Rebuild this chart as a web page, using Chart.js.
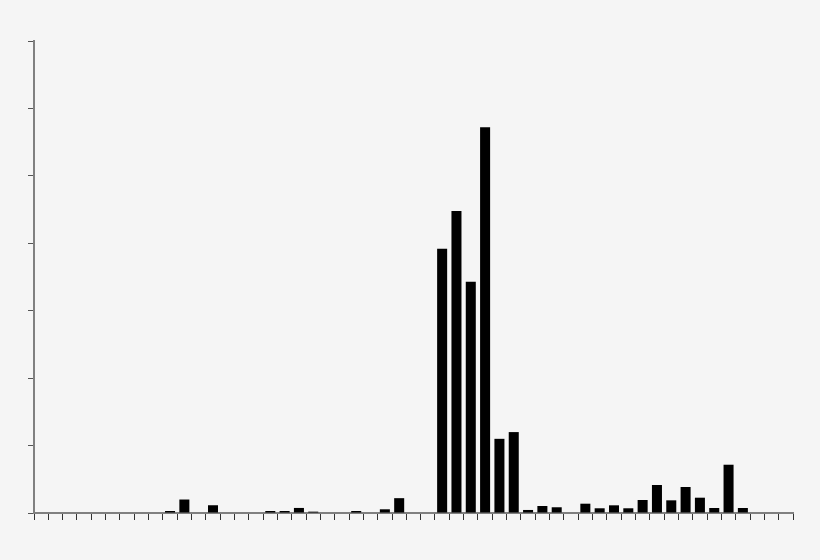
<!DOCTYPE html>
<html>
<head>
<meta charset="utf-8">
<script src="https://cdn.jsdelivr.net/npm/chart.js@4/dist/chart.umd.min.js"></script>
<style>
html,body{margin:0;padding:0;background:#f5f5f5;}
#wrap{width:820px;height:560px;}
</style>
</head>
<body>
<div id="wrap"><canvas id="chart"></canvas></div>
<script>
// 53 categories, no labels shown in the picture
let categories=[];
for(let i=1;i<=53;i++){categories.push(String(i));}

let values=[
0,0,0,0,0,0,0,0,0,0.3,
2.0,0,1.15,0,0,0,0.3,0.3,0.75,0.2,
0,0,0.3,0,0.55,2.2,0,0,39.2,44.8,
34.3,57.2,11.0,12.0,0.45,1.04,0.85,0,1.38,0.7,
1.14,0.7,1.93,4.15,1.88,3.86,2.27,0.74,7.16,0.74,
0,0,0
];

let yTicks=[0,10,20,30,40,50,60,70];

new Chart(document.getElementById("chart"),{
type:'bar',
data:{
labels:categories,
datasets:[{
data:values,
backgroundColor:'#000000',
borderWidth:0,
barPercentage:0.7,
categoryPercentage:1
}]
},
options:{
responsive:true,
maintainAspectRatio:false,
animation:false,
layout:{padding:{top:41,right:27,left:0,bottom:0}},
plugins:{legend:{display:false},tooltip:{enabled:false}},
scales:{
x:{
grid:{drawOnChartArea:false,drawTicks:true,tickLength:7,color:'#333333',lineWidth:1},
border:{color:'#808080',width:2},
ticks:{display:false},
afterFit:function(s){s.height=47;}
},
y:{
min:yTicks[0],
max:yTicks[yTicks.length-1],
grid:{drawOnChartArea:false,drawTicks:true,tickLength:6,color:'#555555',lineWidth:1},
border:{color:'#808080',width:2},
ticks:{display:false,stepSize:10},
afterFit:function(s){s.width=34;}
}
}
}
});
</script>
</body>
</html>
